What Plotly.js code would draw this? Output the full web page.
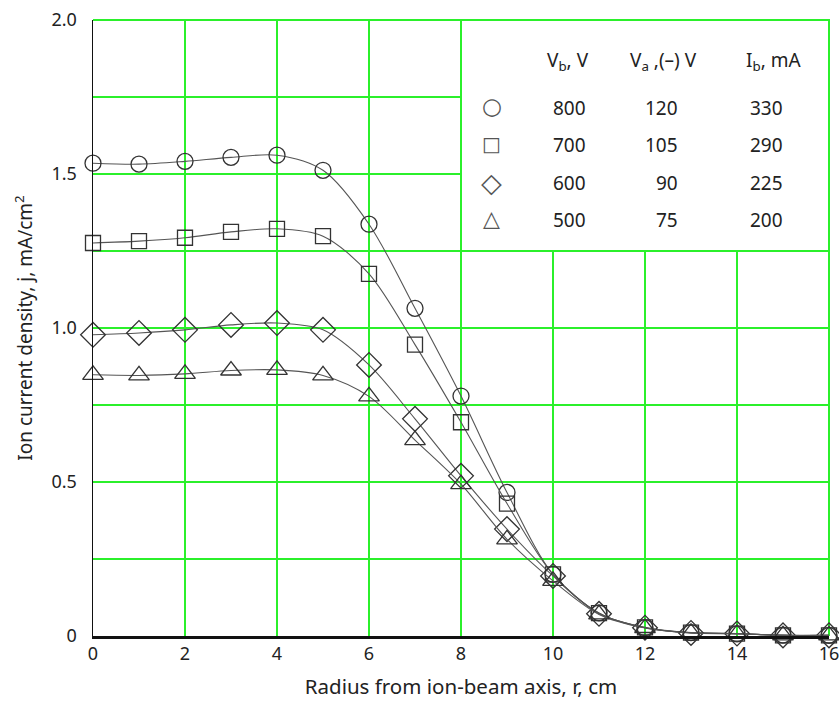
<!DOCTYPE html>
<html>
<head>
<meta charset="utf-8">
<script src="https://cdn.plot.ly/plotly-3.0.1.min.js"></script>
<style>html,body{margin:0;padding:0;background:#fff}#chart{width:839px;height:705px}</style>
</head>
<body>
<div id="chart"></div>
<script>
// ---- data ----
const radius = [0,1,2,3,4,5,6,7,8,9,10,11,12,13,14,15,16];
const j800 = [1.535,1.532,1.541,1.554,1.561,1.512,1.337,1.064,0.779,0.466,0.200,0.075,0.027,0.011,0.007,0.003,0.002];
const j700 = [1.276,1.282,1.293,1.312,1.322,1.298,1.176,0.946,0.694,0.430,0.200,0.074,0.028,0.011,0.008,0.002,0.002];
const j600 = [0.978,0.984,0.994,1.010,1.016,0.994,0.880,0.705,0.520,0.347,0.195,0.072,0.027,0.010,0.008,0.002,0.002];
const j500 = [0.848,0.846,0.851,0.862,0.864,0.846,0.778,0.636,0.493,0.314,0.179,0.070,0.026,0.010,0.007,0.002,0.002];

const xTicks = [0,2,4,6,8,10,12,14,16];
const yTickVals = [0,0.5,1.0,1.5,2.0];
const yTickText = ['0','0.5','1.0','1.5','2.0'];

// legend table content
const legendSymbols = ['\u25CB','\u25A1','\u25C7','\u25B3'];
const colVb = ['800','700','600','500'];
const colVa = ['120','105','90','75'];
const colIb = ['330','290','225','200'];
const legendHeaders = ['V<sub>b</sub>, V','V<sub>a</sub> ,(\u2013) V','I<sub>b</sub>, mA'];

const FONT = 'Noto Sans, Open Sans, Liberation Sans, sans-serif';
const TXT = '#222';
const GREEN = '#2bf02b';

const series = [
  {y: j800, sym: 'circle-open', size: 16},
  {y: j700, sym: 'square-open', size: 15},
  {y: j600, sym: 'diamond-open', size: 19},
  {y: j500, sym: 'triangle-up-open', size: 18}
];

const traces = series.map(s => ({
  x: radius, y: s.y, type: 'scatter', mode: 'lines+markers',
  line: {shape: 'spline', smoothing: 0.9, color: '#555', width: 1.1},
  marker: {symbol: s.sym, size: s.size, color: '#333', line: {width: 1.3, color: '#333'}},
  showlegend: false, cliponaxis: false, hoverinfo: 'skip'
}));

// legend positions (paper coords)
const rowY = [0.857, 0.797, 0.735, 0.675];
const symSize = [23, 20, 27, 22];
const symY = [0.860, 0.799, 0.737, 0.677];
const annotations = [];
const hdrX = [0.646, 0.775, 0.924];
legendHeaders.forEach((t,i) => annotations.push({
  xref:'paper', yref:'paper', x:hdrX[i], y:0.933, text:t, showarrow:false,
  xanchor:'center', yanchor:'middle', font:{family:FONT, size:19, color:TXT}
}));
rowY.forEach((yy,i) => {
  annotations.push({xref:'paper', yref:'paper', x:0.542, y:symY[i], text:legendSymbols[i], showarrow:false,
    xanchor:'center', yanchor:'middle', font:{family:'DejaVu Sans', size:symSize[i], color:'#555'}});
  annotations.push({xref:'paper', yref:'paper', x:0.648, y:yy, text:colVb[i], showarrow:false,
    xanchor:'center', yanchor:'middle', font:{family:FONT, size:19, color:TXT}});
  annotations.push({xref:'paper', yref:'paper', x:0.798, y:yy, text:colVa[i], showarrow:false,
    xanchor:'right', yanchor:'middle', font:{family:FONT, size:19, color:TXT}});
  annotations.push({xref:'paper', yref:'paper', x:0.940, y:yy, text:colIb[i], showarrow:false,
    xanchor:'right', yanchor:'middle', font:{family:FONT, size:19, color:TXT}});
});

const layout = {
  width: 839, height: 705,
  margin: {l: 93, r: 10, t: 20, b: 69},
  paper_bgcolor: '#fff', plot_bgcolor: '#fff',
  font: {family: FONT, size: 18, color: TXT},
  xaxis: {
    range: [0,16], tickvals: xTicks, ticks: '', showgrid: true, gridcolor: GREEN, gridwidth: 2,
    zeroline: false, showline: true, linecolor: '#111', linewidth: 2.5, ticklabeloverflow: 'allow',
    tickfont: {family: FONT, size: 18, color: TXT},
    title: {text: 'Radius from ion-beam axis, r, cm', font: {family: FONT, size: 20.5, color: TXT}, standoff: 16}
  },
  yaxis: {
    range: [0,2], tickvals: yTickVals, ticktext: yTickText, ticks: '', showgrid: true, gridcolor: GREEN, gridwidth: 2,
    minor: {tickmode: 'linear', tick0: 0, dtick: 0.25, showgrid: true, gridcolor: GREEN, gridwidth: 2, ticks: ''},
    zeroline: false, showline: true, linecolor: '#111', linewidth: 1.5,
    tickfont: {family: FONT, size: 18, color: TXT}, ticklabelstandoff: 11,
    title: {text: 'Ion current density, j, mA/cm<sup>2</sup>', font: {family: FONT, size: 19, color: TXT}, standoff: 14}
  },
  shapes: [
    {type:'rect', xref:'paper', yref:'paper', x0:0.5, x1:1, y0:0.625, y1:1,
     fillcolor:'#fff', line:{width:2, color: GREEN}, layer:'above'},
    {type:'line', xref:'paper', yref:'paper', x0:0, x1:1, y0:1, y1:1, line:{width:2, color: GREEN}, layer:'above'},
    {type:'line', xref:'paper', yref:'paper', x0:1, x1:1, y0:0, y1:1, line:{width:2, color: GREEN}, layer:'below'}
  ],
  annotations: annotations
};

Plotly.newPlot('chart', traces, layout, {staticPlot: true});
</script>
</body>
</html>
